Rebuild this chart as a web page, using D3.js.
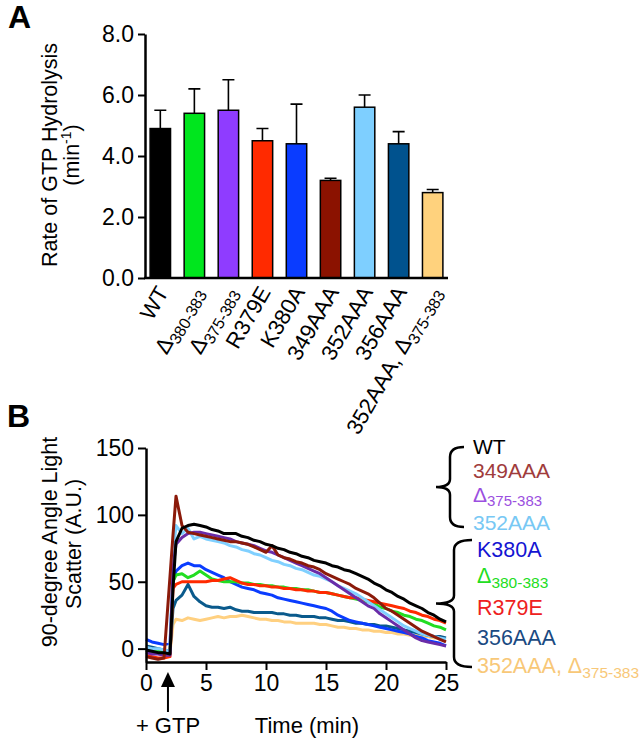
<!DOCTYPE html>
<html><head><meta charset="utf-8">
<script src="https://cdn.jsdelivr.net/npm/d3@7"></script>
<style>
body{margin:0;background:#fff;}
svg{display:block;font-family:"Liberation Sans",Arial,Helvetica,sans-serif;}
</style></head>
<body><svg id="c" width="644" height="745"></svg>
<script>
// ---------- Panel A data ----------
const categories = ["WT","Δ380-383","Δ375-383","R379E","K380A","349AAA","352AAA","356AAA","352AAA, Δ375-383"];
const rateValues = [4.9,5.4,5.5,4.5,4.4,3.2,5.6,4.4,2.8];
const rateErrors = [0.6,0.8,1.0,0.4,1.3,0.07,0.4,0.4,0.1];
const barColors = ["#000000","#00e61e","#8f3cff","#ff2a00","#0a3cff","#8b1200","#7ecfff","#00528e","#ffd27d"];
const rateTicks = [0,2,4,6,8];

// ---------- Panel B data ----------
const timeMin = [0,0.5,1,1.5,2,2.25,2.5,3,3.5,4,4.5,5,5.5,6,6.5,7,7.5,8,8.5,9,9.5,10,10.5,11,11.5,12,12.5,13,13.5,14,14.5,15,15.5,16,16.5,17,17.5,18,18.5,19,19.5,20,20.5,21,21.5,22,22.5,23,23.5,24,24.5,25];
const yellowVals = [-2,-2,-3,-3,-3, 18,22, 21,23,22,21,22,23,24,23,24, 24,25,24,23,22,22,21,21,20,20, 19,19,19,19,18,18,17,16,16,15, 15,14,14,13,13,12,12,11,11,10, 10,9,9,8,8,7];
const darkBlueVals = [2,1,0,-1,-2, 30,36, 40,48,39,35,32,31,31,30,31, 29,28,28,27,27,27,27,26,26,25, 25,24,24,24,23,23,22,21,21,20, 19,19,18,18,17,17,16,15,14,13, 12,11,10,9,9,8];
const blueVals = [7,5,4,3,4, 50,58, 62,64,62,62,59,57,55,53,50, 48,46,45,44,42,41,40,38,37,36, 35,34,33,32,31,30,28,25,23,21, 20,19,18,17,16,15,14,13,12,11, 9,8,6,5,4,2];
const greenVals = [-1,-2,-2,-3,-3, 50,55, 56,53,55,58,55,52,51,50,50, 50,49,49,48,48,47,47,46,46,45, 45,44,44,43,42,42,41,40,39,38, 37,36,35,34,31,30,28,27,25,24, 22,21,19,17,16,14];
const redVals = [-5,-6,-7,-7,-6, 45,48, 50,50,50,50,50,51,51,52,53, 51,49,48,48,47,47,46,46,45,45, 44,44,43,43,42,42,41,40,39,38, 38,37,36,35,34,33,32,31,30,28, 27,25,24,22,21,19];
const lightBlueVals = [1,0,0,-1,-2, 70,92, 86,90,82,84,82,81,80,79,77, 76,74,73,71,70,68,66,65,63,62, 60,59,57,55,54,52,50,47,45,43, 41,38,35,32,29,26,23,20,17,15, 13,11,10,9,8,7];
const purpleVals = [-3,-4,-4,-5,-5, 60,78, 83,86,87,87,86,85,84,83,82, 80,79,78,77,75,73,72,70,68,66, 64,62,60,58,56,53,50,47,44,41, 38,35,32,30,26,23,20,17,14,11, 8,6,5,4,3,2];
const brownVals = [-6,-7,-8,-7,54, 85,114, 92,87,86,85,84,83,82,81,80, 80,79,78,76,74,72,77,70,68,67, 65,64,62,61,59,56,54,52,50,48, 45,43,41,38,34,30,28,25,22,19, 16,13,11,9,7,5];
const wtVals = [-1,-2,-3,-3,-4, 45,80, 90,92,93,92,91,89,88,86,86, 86,84,83,81,80,78,77,75,74,72, 71,69,68,66,65,64,62,61,59,58, 56,54,52,49,47,44,42,39,37,34, 32,30,27,25,22,20];
const lineSeries = [
  {name:"352AAA, Δ375-383", color:"#ffd080", values:yellowVals},
  {name:"356AAA", color:"#0a5a8c", values:darkBlueVals},
  {name:"K380A", color:"#0a3cff", values:blueVals},
  {name:"Δ380-383", color:"#22dd22", values:greenVals},
  {name:"R379E", color:"#ff2a00", values:redVals},
  {name:"352AAA", color:"#80d0ff", values:lightBlueVals},
  {name:"Δ375-383", color:"#6a2ca8", values:purpleVals},
  {name:"349AAA", color:"#8b1a0a", values:brownVals},
  {name:"WT", color:"#000000", values:wtVals}
];
const timeTicks = [0,5,10,15,20,25];
const scatterTicks = [0,50,100,150];
const legendGroup1 = [{t:"WT",c:"#000000"},{t:"349AAA",c:"#a03c3c"},{t:"Δ375-383",c:"#9b4fe0"},{t:"352AAA",c:"#78c8f4"}];
const legendGroup2 = [{t:"K380A",c:"#1414d2"},{t:"Δ380-383",c:"#22dd22"},{t:"R379E",c:"#ee2020"},{t:"356AAA",c:"#1a4a82"},{t:"352AAA, Δ375-383",c:"#f8c878"}];

const svg = d3.select("#c");

// helper: write label with Δ subscripts
function writeLabel(sel, str, subSize, subShift){
  const re = /Δ(\d+-\d+)/g;
  let last = 0, m;
  while((m = re.exec(str)) !== null){
    if(m.index > last) sel.append("tspan").text(str.slice(last, m.index));
    sel.append("tspan").text("Δ");
    sel.append("tspan").attr("font-size", subSize).attr("dy", subShift).text(m[1]);
    last = re.lastIndex;
  }
  if(last < str.length) sel.append("tspan").text(str.slice(last));
}

// ================= Panel A =================
const xA = d3.scaleBand().domain(categories).range([145,448]).paddingInner(0.4).paddingOuter(0.15);
const yA = d3.scaleLinear().domain([0,8]).range([278,34]);

const gA = svg.append("g");
gA.selectAll("rect.bar").data(categories).join("rect")
  .attr("x", d=>xA(d)).attr("width", xA.bandwidth())
  .attr("y", (d,i)=>yA(rateValues[i])).attr("height",(d,i)=>yA(0)-yA(rateValues[i]))
  .attr("fill",(d,i)=>barColors[i]).attr("stroke","#000").attr("stroke-width",1.5);
// error bars
gA.selectAll("path.err").data(categories).join("path")
  .attr("d",(d,i)=>{
    const cx = xA(d)+xA.bandwidth()/2, y0=yA(rateValues[i]), y1=yA(rateValues[i]+rateErrors[i]);
    return `M${cx},${y0}V${y1}M${cx-6},${y1}H${cx+6}`;
  })
  .attr("stroke","#000").attr("stroke-width",1.6).attr("fill","none");

const axA = d3.axisLeft(yA).tickValues(rateTicks).tickFormat(d3.format(".1f")).tickSize(7).tickSizeOuter(0).tickPadding(4);
const gAy = gA.append("g").attr("transform","translate(145,0)").call(axA);
gAy.select(".domain").attr("stroke-width",2.5);
gAy.selectAll(".tick line").attr("stroke-width",2);
gAy.selectAll(".tick text").attr("font-size",23).attr("font-family","inherit").attr("fill","#000");
gA.append("line").attr("x1",144).attr("x2",448).attr("y1",278).attr("y2",278).attr("stroke","#000").attr("stroke-width",2.5);

// x labels
categories.forEach((c,i)=>{
  const cx = xA(c)+xA.bandwidth()/2;
  const t = gA.append("text").attr("transform",`translate(${cx+9},292) rotate(-60)`)
    .attr("text-anchor","end").attr("font-size",22).attr("fill","#000");
  writeLabel(t, c, 16, 5);
});

// y title
gA.append("text").attr("transform","translate(57,155) rotate(-90)").attr("text-anchor","middle")
  .attr("font-size",21.5).text("Rate of GTP Hydrolysis");
const t2 = gA.append("text").attr("transform","translate(79,155) rotate(-90)").attr("text-anchor","middle").attr("font-size",21.5);
t2.append("tspan").text("(min");
t2.append("tspan").attr("font-size",14).attr("dy",-8).text("-1");
t2.append("tspan").attr("dy",8).text(")");

svg.append("text").attr("x",8).attr("y",28).attr("font-size",32).attr("font-weight","bold").text("A");
svg.append("text").attr("x",7).attr("y",427).attr("font-size",32).attr("font-weight","bold").text("B");

// ================= Panel B =================
const xB = d3.scaleLinear().domain([0,25]).range([146,446]);
const yB = d3.scaleLinear().domain([-10,150]).range([662,448]);
const gB = svg.append("g");
const line = d3.line().x((d,i)=>xB(timeMin[i])).y(d=>yB(d));
gB.selectAll("path.ser").data(lineSeries).join("path")
  .attr("d", s=>line(s.values)).attr("fill","none").attr("stroke",s=>s.color)
  .attr("stroke-width",3).attr("stroke-linejoin","round");

const axBx = d3.axisBottom(xB).tickValues(timeTicks).tickSize(8).tickSizeOuter(0).tickPadding(5);
const gBx = gB.append("g").attr("transform","translate(0,662)").call(axBx);
const axBy = d3.axisLeft(yB).tickValues(scatterTicks).tickSize(8).tickSizeOuter(0).tickPadding(4);
const gBy = gB.append("g").attr("transform","translate(146,0)").call(axBy);
[gBx,gBy].forEach(g=>{
  g.select(".domain").attr("stroke-width",2.5);
  g.selectAll(".tick line").attr("stroke-width",2);
  g.selectAll(".tick text").attr("font-size",23).attr("font-family","inherit").attr("fill","#000");
});

gB.append("text").attr("transform","translate(57,542) rotate(-90)").attr("text-anchor","middle").attr("font-size",21.5).text("90-degree Angle Light");
gB.append("text").attr("transform","translate(81,544) rotate(-90)").attr("text-anchor","middle").attr("font-size",21.5).text("Scatter (A.U.)");

// arrow
gB.append("line").attr("x1",xB(1.83)).attr("x2",xB(1.83)).attr("y1",684).attr("y2",712).attr("stroke","#000").attr("stroke-width",2);
gB.append("path").attr("d",`M${xB(1.83)},672L${xB(1.83)-7},687L${xB(1.83)+7},687Z`).attr("fill","#000");
gB.append("text").attr("x",168).attr("y",733).attr("text-anchor","middle").attr("font-size",22).text("+ GTP");
gB.append("text").attr("x",307).attr("y",733).attr("text-anchor","middle").attr("font-size",22).text("Time (min)");

// braces
function brace(top,bot,tipX,vx,rx){
  const mid=(top+bot)/2;
  return `M${rx},${top}Q${vx},${top} ${vx},${top+10}L${vx},${mid-8}Q${vx},${mid} ${tipX},${mid}Q${vx},${mid} ${vx},${mid+8}L${vx},${bot-10}Q${vx},${bot} ${rx},${bot}`;
}
gB.append("path").attr("d",brace(447,527,436,450,464)).attr("fill","none").attr("stroke","#000").attr("stroke-width",2.5);
gB.append("path").attr("d",brace(540,667,436,454,472)).attr("fill","none").attr("stroke","#000").attr("stroke-width",2.5);

const leg1Y = [454,478,502,530];
legendGroup1.forEach((d,i)=>{
  const t = gB.append("text").attr("x",473).attr("y",leg1Y[i]).attr("font-size",21).attr("fill",d.c);
  writeLabel(t,d.t,15,4);
});
const leg2Y = [557,583,615,645,673];
legendGroup2.forEach((d,i)=>{
  const t = gB.append("text").attr("x",477).attr("y",leg2Y[i]).attr("font-size",21.5).attr("fill",d.c);
  writeLabel(t,d.t,15.5,5);
});
</script></body></html>
